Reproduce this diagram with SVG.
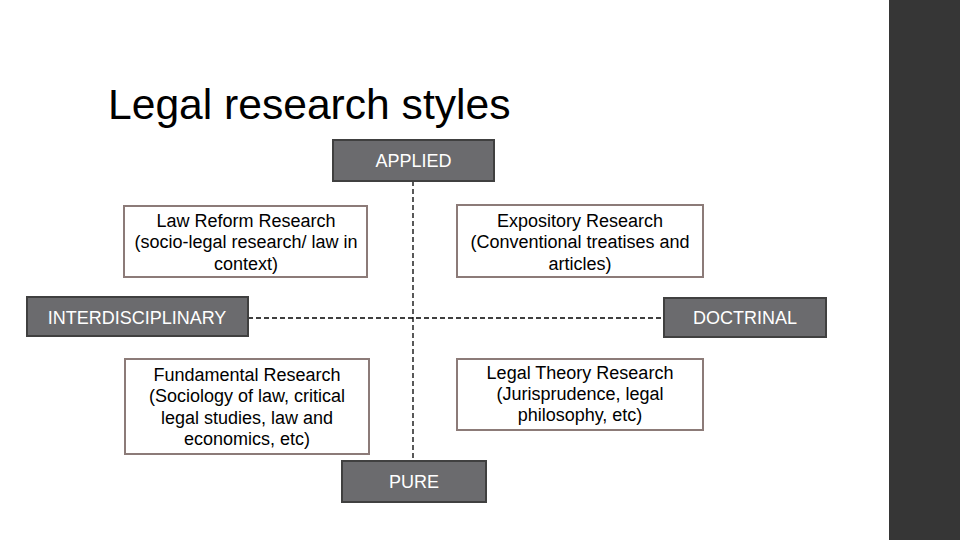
<svg xmlns="http://www.w3.org/2000/svg" width="960" height="540" viewBox="0 0 960 540">
<style>
.axis rect{fill:#6b6b6e;stroke:#404040;stroke-width:2}
.axis text{fill:#ffffff;font-family:"Liberation Sans",Arial,sans-serif;font-size:18px;text-anchor:middle}
.quad rect{fill:#ffffff;stroke:#8c7b78;stroke-width:2}
.quad text{fill:#000000;font-family:"Liberation Sans",Arial,sans-serif;font-size:18px;text-anchor:middle}
.conn line{stroke:#000000;stroke-width:1.3;stroke-dasharray:5 3;fill:none}
</style>
<rect x="0" y="0" width="960" height="540" fill="#ffffff"/>
<rect x="889" y="0" width="71" height="540" fill="#363636"/>
<text x="108" y="119" font-family="Liberation Sans, Arial, sans-serif" font-size="42.6" fill="#000000">Legal research styles</text>
<g id="connectors" class="conn">
<line x1="413" y1="181" x2="413" y2="461"/>
<line x1="248" y1="318" x2="664" y2="318"/>
</g>
<g id="applied" class="axis">
<rect x="333" y="140" width="161" height="41"/>
<text x="413.5" y="167">APPLIED</text>
</g>
<g id="pure" class="axis">
<rect x="342" y="461" width="144" height="41"/>
<text x="414" y="488">PURE</text>
</g>
<g id="interdisciplinary" class="axis">
<rect x="27" y="297" width="221" height="39"/>
<text x="137" y="324">INTERDISCIPLINARY</text>
</g>
<g id="doctrinal" class="axis">
<rect x="664" y="298" width="162" height="39"/>
<text x="745" y="324">DOCTRINAL</text>
</g>
<g id="law-reform" class="quad">
<rect x="124" y="206" width="243" height="71"/>
<text x="246" y="227">Law Reform Research</text>
<text x="246" y="248">(socio-legal research/ law in</text>
<text x="246" y="270">context)</text>
</g>
<g id="expository" class="quad">
<rect x="457" y="205" width="246" height="72"/>
<text x="580" y="227">Expository Research</text>
<text x="580" y="248">(Conventional treatises and</text>
<text x="580" y="270">articles)</text>
</g>
<g id="fundamental" class="quad">
<rect x="125" y="359" width="244" height="95"/>
<text x="247" y="381">Fundamental Research</text>
<text x="247" y="402">(Sociology of law, critical</text>
<text x="247" y="424">legal studies, law and</text>
<text x="247" y="445">economics, etc)</text>
</g>
<g id="legal-theory" class="quad">
<rect x="457" y="359" width="246" height="71"/>
<text x="580" y="379">Legal Theory Research</text>
<text x="580" y="400">(Jurisprudence, legal</text>
<text x="580" y="421">philosophy, etc)</text>
</g>
</svg>
